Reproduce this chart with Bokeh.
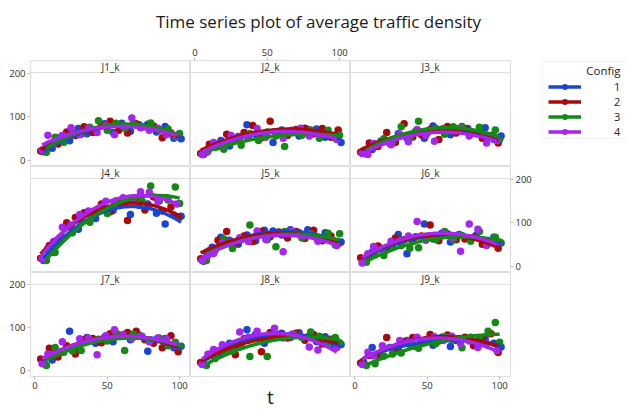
import numpy as np
from bokeh.plotting import figure
from bokeh.layouts import column, row
from bokeh.models import (Range1d, Span, Label, LinearAxis, FixedTicker, Legend,
                          LegendItem, BoxAnnotation)
from bokeh.embed import file_html
from bokeh.resources import INLINE

TITLE = "Time series plot of average traffic density"
X_LABEL = "t"
LEGEND_TITLE = "Config"
PANELS = ["J1_k", "J2_k", "J3_k", "J4_k", "J5_k", "J6_k", "J7_k", "J8_k", "J9_k"]
CONFIGS = ["1", "2", "3", "4"]
COLORS = ["#1b45d1", "#a80a0a", "#138a13", "#a526ec"]
X_TICKS = [0, 50, 100]
Y_TICKS = [0, 100, 200]

# time index of each config's observations
T1 = [6, 12, 18, 24, 30, 36, 42, 48, 54, 60, 66, 72, 78, 84, 90, 96, 101]
T2 = [4, 10, 16, 22, 28, 34, 40, 46, 52, 58, 64, 70, 76, 82, 88, 94, 99]
T3 = [8, 14, 20, 26, 32, 38, 44, 50, 56, 62, 68, 74, 80, 86, 92, 97, 100]
T4 = [5, 9, 13, 19, 25, 31, 37, 43, 49, 55, 61, 67, 73, 79, 85, 91, 98]

J1_C1 = [20, 28, 54, 45, 73, 61, 70, 84, 64, 85, 67, 82, 83, 65, 78, 51, 50]
J1_C2 = [22, 38, 38, 65, 57, 77, 64, 80, 90, 69, 63, 84, 77, 79, 52, 63, 58]
J1_C3 = [19, 53, 42, 64, 60, 76, 91, 69, 85, 74, 84, 77, 86, 69, 72, 54, 62]
J1_C4 = [24, 58, 38, 57, 75, 59, 74, 64, 80, 59, 79, 97, 75, 69, 74, 59, 56]

J2_C1 = [14, 31, 46, 33, 55, 82, 60, 55, 41, 70, 67, 56, 71, 72, 53, 58, 41]
J2_C2 = [16, 37, 32, 60, 45, 64, 80, 52, 90, 61, 57, 71, 74, 61, 73, 53, 70]
J2_C3 = [19, 30, 26, 43, 35, 62, 46, 65, 56, 32, 67, 58, 70, 51, 69, 51, 58]
J2_C4 = [14, 20, 41, 35, 57, 54, 54, 73, 53, 66, 51, 69, 74, 56, 60, 61, 48]

J3_C1 = [21, 25, 44, 40, 61, 51, 67, 51, 79, 71, 59, 73, 73, 61, 75, 48, 56]
J3_C2 = [19, 40, 32, 64, 41, 84, 54, 59, 71, 48, 78, 63, 73, 64, 51, 57, 40]
J3_C3 = [15, 38, 50, 42, 77, 52, 90, 63, 73, 60, 77, 78, 62, 76, 54, 70, 48]
J3_C4 = [16, 14, 39, 41, 36, 60, 43, 71, 58, 44, 73, 69, 73, 56, 63, 40, 46]

J4_C1 = [14, 32, 68, 91, 85, 122, 110, 132, 128, 143, 119, 140, 143, 122, 97, 118, 115]
J4_C2 = [19, 48, 59, 100, 112, 123, 123, 143, 125, 149, 105, 157, 129, 159, 127, 136, 114]
J4_C3 = [14, 32, 65, 77, 106, 101, 127, 121, 150, 143, 156, 150, 184, 150, 152, 182, 144]
J4_C4 = [18, 42, 57, 90, 95, 119, 127, 127, 149, 145, 157, 150, 171, 170, 149, 157, 143]

J5_C1 = [12, 44, 67, 60, 51, 72, 59, 83, 81, 72, 84, 77, 84, 66, 77, 57, 56]
J5_C2 = [18, 36, 60, 80, 54, 70, 57, 80, 68, 79, 65, 80, 64, 83, 59, 70, 52]
J5_C3 = [14, 37, 63, 41, 61, 95, 72, 61, 45, 80, 76, 65, 75, 62, 76, 49, 75]
J5_C4 = [14, 25, 30, 54, 56, 66, 57, 81, 62, 75, 34, 81, 71, 74, 58, 62, 48]

J6_C1 = [14, 33, 42, 41, 73, 29, 68, 97, 63, 76, 56, 73, 65, 72, 54, 67, 54]
J6_C2 = [20, 22, 47, 38, 65, 61, 57, 70, 95, 59, 75, 61, 63, 67, 51, 59, 42]
J6_C3 = [10, 27, 25, 48, 48, 42, 43, 69, 62, 80, 61, 71, 58, 80, 55, 67, 56]
J6_C4 = [8, 29, 46, 38, 58, 59, 70, 103, 60, 69, 75, 66, 35, 97, 85, 48, 54]

J7_C1 = [18, 25, 43, 92, 48, 77, 64, 77, 67, 82, 72, 83, 45, 73, 75, 53, 57]
J7_C2 = [27, 52, 32, 58, 39, 72, 75, 65, 86, 83, 89, 92, 72, 64, 53, 81, 44]
J7_C3 = [12, 54, 43, 46, 47, 70, 73, 69, 88, 47, 85, 80, 72, 76, 58, 66, 56]
J7_C4 = [16, 39, 39, 67, 53, 74, 75, 37, 81, 95, 84, 75, 80, 67, 76, 73, 58]

J8_C1 = [16, 36, 39, 64, 55, 95, 85, 64, 76, 87, 77, 88, 79, 68, 79, 57, 61]
J8_C2 = [19, 38, 46, 52, 37, 74, 78, 44, 89, 84, 76, 87, 71, 84, 62, 73, 61]
J8_C3 = [12, 28, 44, 46, 59, 33, 76, 33, 82, 81, 85, 77, 90, 80, 66, 77, 65]
J8_C4 = [14, 38, 49, 60, 58, 90, 78, 92, 77, 99, 76, 85, 80, 55, 48, 70, 54]

J9_C1 = [20, 54, 34, 54, 51, 70, 56, 71, 59, 78, 56, 75, 72, 58, 74, 64, 55]
J9_C2 = [18, 35, 36, 77, 52, 68, 77, 68, 84, 69, 83, 70, 78, 58, 77, 86, 42]
J9_C3 = [12, 16, 34, 39, 41, 60, 52, 73, 63, 79, 72, 53, 78, 77, 92, 112, 66]
J9_C4 = [14, 43, 34, 58, 54, 70, 67, 78, 66, 79, 70, 80, 63, 69, 54, 63, 47]

TIMES = [T1, T2, T3, T4]
DATA = {
    "J1_k": [J1_C1, J1_C2, J1_C3, J1_C4],
    "J2_k": [J2_C1, J2_C2, J2_C3, J2_C4],
    "J3_k": [J3_C1, J3_C2, J3_C3, J3_C4],
    "J4_k": [J4_C1, J4_C2, J4_C3, J4_C4],
    "J5_k": [J5_C1, J5_C2, J5_C3, J5_C4],
    "J6_k": [J6_C1, J6_C2, J6_C3, J6_C4],
    "J7_k": [J7_C1, J7_C2, J7_C3, J7_C4],
    "J8_k": [J8_C1, J8_C2, J8_C3, J8_C4],
    "J9_k": [J9_C1, J9_C2, J9_C3, J9_C4],
}

FONT = "Open Sans"
TXT = "#2e2e2e"
EDGE = "#dedede"
XR = (-3, 107.5)
YR = (-13.7, 228.6)


def style_axis(ax):
    ax.axis_line_color = None
    ax.major_tick_line_color = "#bdbdbd"
    ax.major_tick_out = 3
    ax.major_tick_in = 0
    ax.minor_tick_line_color = None
    ax.major_label_text_font_size = "9.5px"
    ax.major_label_text_font = FONT
    ax.major_label_text_color = TXT
    ax.major_label_standoff = 2
    return ax


COL_W = [190, 160, 190]
ROW_H = [126, 106, 140]

rows = []
for r in range(3):
    figs = []
    for c in range(3):
        i = r * 3 + c
        name = PANELS[i]
        p = figure(width=COL_W[c], height=ROW_H[r], output_backend="svg",
                   toolbar_location=None, x_axis_location=None, y_axis_location=None,
                   x_range=Range1d(*XR), y_range=Range1d(*YR), min_border=0)
        p.min_border_left = 30 if c == 0 else 0
        p.min_border_right = 30 if c == 2 else 0
        p.min_border_top = 20 if r == 0 else 0
        p.min_border_bottom = 34 if r == 2 else 0
        p.grid.visible = False
        p.outline_line_color = EDGE
        p.background_fill_color = "white"
        p.border_fill_color = "white"

        if c == 0 and r != 1:
            p.add_layout(style_axis(LinearAxis(ticker=FixedTicker(ticks=Y_TICKS))), "left")
        if c == 2 and r == 1:
            p.add_layout(style_axis(LinearAxis(ticker=FixedTicker(ticks=Y_TICKS))), "right")
        if c == 1 and r == 0:
            p.add_layout(style_axis(LinearAxis(ticker=FixedTicker(ticks=X_TICKS))), "above")
        if r == 2 and c != 1:
            p.add_layout(style_axis(LinearAxis(ticker=FixedTicker(ticks=X_TICKS))), "below")
        if r == 2 and c == 1:
            ax = LinearAxis(ticker=FixedTicker(ticks=[]), axis_label=X_LABEL)
            ax.axis_line_color = None
            ax.major_tick_line_color = None
            ax.major_tick_out = 0
            ax.major_tick_in = 0
            ax.major_label_standoff = 0
            ax.axis_label_standoff = 7
            ax.axis_label_text_font = FONT
            ax.axis_label_text_font_size = "19px"
            ax.axis_label_text_font_style = "normal"
            ax.axis_label_text_color = "#1a1a1a"
            p.add_layout(ax, "below")

        # strip header
        p.add_layout(Span(location=201, dimension="width", line_color=EDGE, line_width=1))
        p.add_layout(Label(x=(XR[0] + XR[1]) / 2, y=214.5, text=name, text_align="center",
                           text_baseline="middle", text_font=FONT, text_font_size="10px",
                           text_color=TXT))

        series = DATA[name]
        for k in range(4):
            p.scatter(TIMES[k], series[k], size=7.5, fill_color=COLORS[k], line_color=None)
        for k in range(4):
            t = np.array(TIMES[k], dtype=float)
            y = np.array(series[k], dtype=float)
            coef = np.polyfit(t, y, 2)
            tt = np.linspace(t.min(), t.max(), 60)
            p.line(tt, np.polyval(coef, tt), line_color=COLORS[k], line_width=3.5)
        figs.append(p)
    rows.append(row(*figs))

grid = column(*rows)

# legend panel
lf = figure(width=88, height=372, output_backend="svg", toolbar_location=None,
            x_axis_location=None, y_axis_location=None, min_border=0,
            x_range=Range1d(0, 88), y_range=Range1d(372, 0))
lf.grid.visible = False
lf.outline_line_color = None
items = []
for k in range(4):
    lr = lf.line([np.nan], [np.nan], line_color=COLORS[k], line_width=3.5)
    sr = lf.scatter([np.nan], [np.nan], size=7, fill_color=COLORS[k], line_color=None)
    items.append(LegendItem(label=CONFIGS[k], renderers=[lr, sr]))
leg = Legend(items=items, location=(8, 273.5), padding=0, spacing=0, margin=0,
             glyph_width=33, glyph_height=15, label_height=15, label_standoff=33,
             label_text_font=FONT, label_text_font_size="11px", label_text_color="#222222",
             border_line_color=None, background_fill_color=None)
lf.add_layout(leg)
lf.add_layout(BoxAnnotation(left=2, right=120, top=21, bottom=98, fill_color=None,
                            line_color="#d4d4d4", line_width=1))
lf.add_layout(Label(x=80, y=30, text=LEGEND_TITLE, text_align="right", text_baseline="middle",
                    text_font=FONT, text_font_size="11.5px", text_color="#222222"))

# title panel
tf = figure(width=628, height=40, output_backend="svg", toolbar_location=None,
            x_axis_location=None, y_axis_location=None, min_border=0,
            x_range=Range1d(0, 628), y_range=Range1d(40, 0))
tf.grid.visible = False
tf.outline_line_color = None
tf.add_layout(Label(x=318, y=21, text=TITLE, text_align="center", text_baseline="middle",
                    text_font=FONT, text_font_size="17px", text_color="#1a1a1a"))

layout = column(tf, row(grid, lf))
open("out.html", "w").write(file_html(layout, INLINE))
